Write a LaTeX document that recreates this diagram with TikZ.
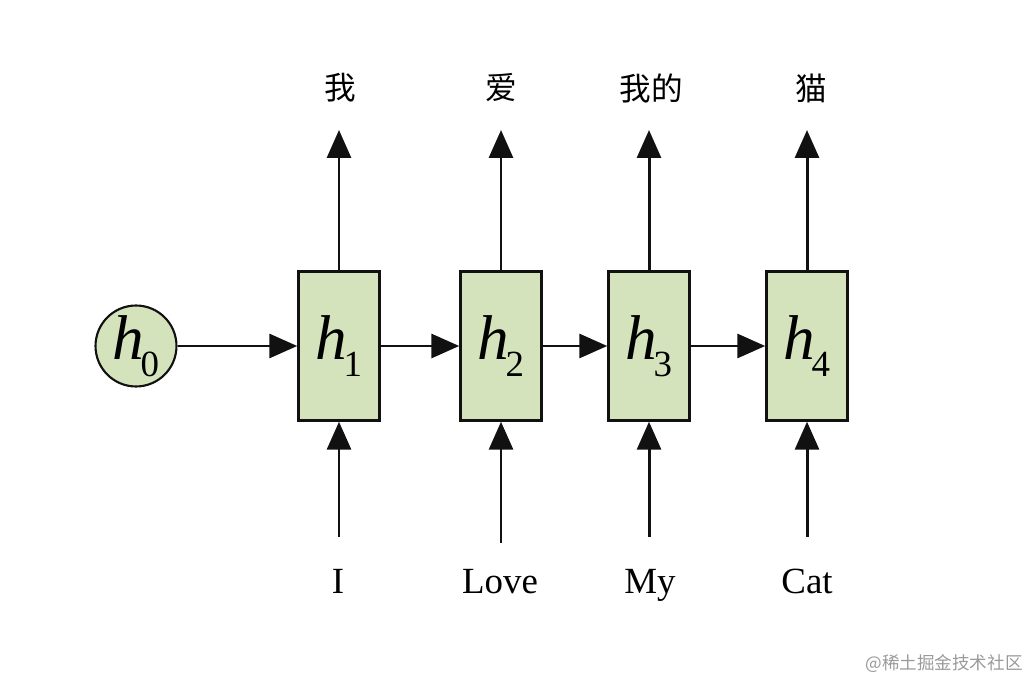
\documentclass[tikz,border=0pt]{standalone}
\usepackage{fontspec}
\setmainfont{Liberation Serif}
\newfontfamily\cjk{Noto Sans CJK SC}
\usepackage{tikz}
\usetikzlibrary{positioning,arrows.meta}
\definecolor{RNNfill}{HTML}{D5E3BD}
\definecolor{RNNline}{HTML}{111111}
\definecolor{RNNmark}{HTML}{9A9A9A}
\newcommand{\hstate}[1]{\textit{h}\kern-0.06em\raisebox{-0.27em}{\fontsize{21}{21}\selectfont #1}}
\tikzset{
  statebox/.style={draw=RNNline, fill=RNNfill, line width=1.4pt, minimum width=1.62cm, minimum height=2.98cm, inner sep=0pt, font=\fontsize{36}{40}\selectfont},
  initstate/.style={circle, draw=RNNline, fill=RNNfill, line width=1.2pt, minimum size=1.62cm, inner sep=0pt, font=\fontsize{36}{40}\selectfont},
  flowarr/.style={-{Triangle[length=0.56cm, width=0.48cm]}, line width=1.7pt, draw=RNNline},
  wordlbl/.style={anchor=base, inner sep=0pt, font=\fontsize{21}{24}\selectfont},
  cjklbl/.style={inner sep=0pt, font=\cjk\fontsize{18}{22}\selectfont},
  marklbl/.style={inner sep=0pt, text=RNNmark, font=\cjk\fontsize{10}{12}\selectfont}
}

\begin{document}
\begin{tikzpicture}[x=0.02cm, y=-0.02cm]
\useasboundingbox (0,0) rectangle (1031,682);
% hidden states
\node[initstate] (h0) at (136,346) {\hstate{0}};
\node[statebox] (h1) at (339,346) {\hstate{1}};
\node[statebox] (h2) at (501,346) {\hstate{2}};
\node[statebox] (h3) at (649,346) {\hstate{3}};
\node[statebox] (h4) at (807,346) {\hstate{4}};
% outputs
\node[cjklbl] (y1) at (340,88) {我};
\node[cjklbl] (y2) at (501,88) {爱};
\node[cjklbl] (y3) at (651,88) {我的};
\node[cjklbl] (y4) at (811,88) {猫};
\coordinate (y1tip) at (339,130);
\coordinate (y2tip) at (501,130);
\coordinate (y3tip) at (649,130);
\coordinate (y4tip) at (807,130);
% inputs
\node[wordlbl] (x1) at (338,593) {I};
\node[wordlbl] (x2) at (500,593) {Love};
\node[wordlbl] (x3) at (650,593) {My};
\node[wordlbl] (x4) at (807,593) {Cat};
\coordinate (x1tail) at (339,537);
\coordinate (x2tail) at (501,543);
\coordinate (x3tail) at (649,537);
\coordinate (x4tail) at (807,537);
% connectors
\draw[flowarr] (h0) -- (h1);
\draw[flowarr] (h1) -- (h2);
\draw[flowarr] (h2) -- (h3);
\draw[flowarr] (h3) -- (h4);
\draw[flowarr] (h1.north) -- (y1tip);
\draw[flowarr] (h2.north) -- (y2tip);
\draw[flowarr] (h3.north) -- (y3tip);
\draw[flowarr] (h4.north) -- (y4tip);
\draw[flowarr] (x1tail) -- (h1.south);
\draw[flowarr] (x2tail) -- (h2.south);
\draw[flowarr] (x3tail) -- (h3.south);
\draw[flowarr] (x4tail) -- (h4.south);
\node[marklbl, anchor=east] (mark) at (1023,664) {@稀土掘金技术社区};
\end{tikzpicture}
\end{document}
